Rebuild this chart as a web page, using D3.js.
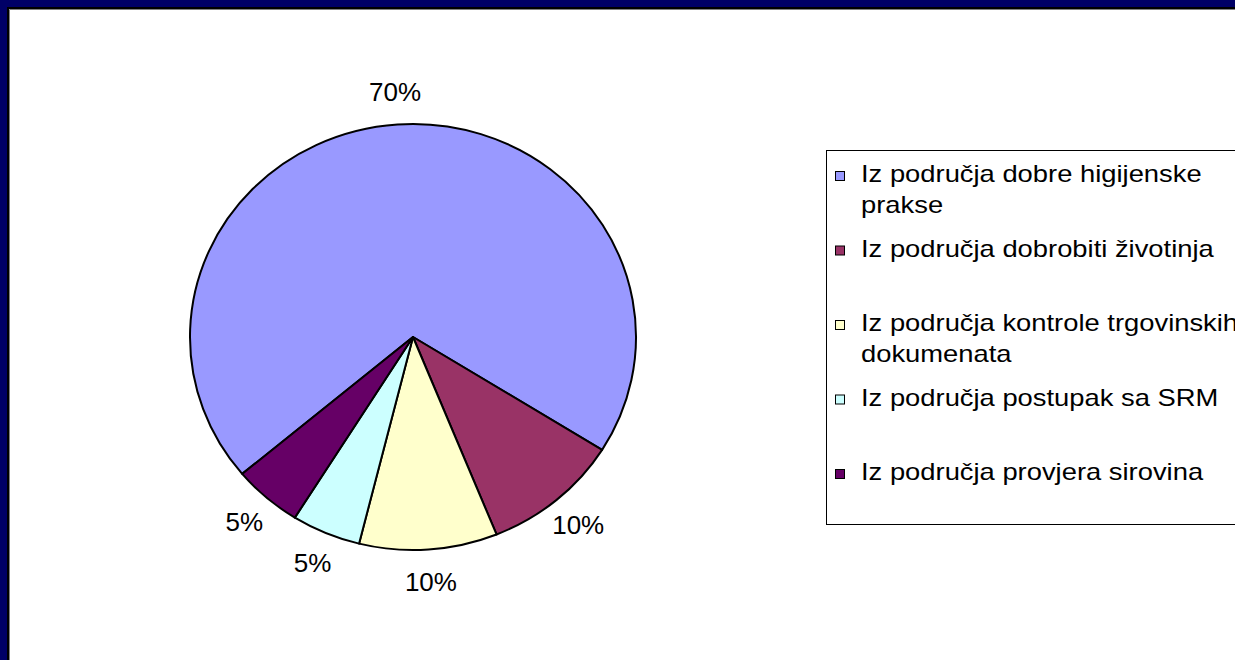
<!DOCTYPE html>
<html>
<head>
<meta charset="utf-8">
<script src="https://cdn.jsdelivr.net/npm/d3@7"></script>
<style>
  html, body { margin: 0; padding: 0; background: #fff; overflow: hidden; width: 1235px; height: 660px; }
  #chart svg { position: absolute; left: 0; top: 0; display: block; }
  text { font-family: "Liberation Sans", Arial, sans-serif; fill: #000; }
</style>
</head>
<body>
<div id="chart"></div>
<script>
// Data
const categories = [
  "Iz područja dobre higijenske prakse",
  "Iz područja dobrobiti životinja",
  "Iz područja kontrole trgovinskih dokumenata",
  "Iz područja postupak sa SRM",
  "Iz područja provjera sirovina"
]
const values = [70, 10, 10, 5, 5]
const colors = ["#9999ff", "#993366", "#ffffcc", "#ccffff", "#660066"]

const width = 1235, height = 660
const cx = 413, cy = 337
const radius = 223
const squash = 0.955          // slide is drawn slightly flattened
const startAngle = 230 * Math.PI / 180

const svg = d3.select('#chart')
  .append('svg')
  .attr('width', width)
  .attr('height', height)

// slide frame (only top and left edges are inside the window)
svg.append('rect').attr('width', width).attr('height', height).attr('fill', '#fff')
svg.append('rect').attr('width', width).attr('height', 7).attr('fill', '#000066')
svg.append('rect').attr('width', 7).attr('height', height).attr('fill', '#000066')
svg.append('path')
  .attr('d', `M8,${height} V8 H${width}`)
  .attr('fill', 'none').attr('stroke', '#000').attr('stroke-width', 2)
svg.append('path')
  .attr('d', `M9.5,${height} V9.5 H${width}`)
  .attr('fill', 'none').attr('stroke', '#808080').attr('stroke-width', 1)

// pie
const pie = d3.pie()
  .sort(null)
  .value(d => d)
  .startAngle(startAngle)
  .endAngle(startAngle + 2 * Math.PI)
const arcs = pie(values)

const arc = d3.arc().innerRadius(0).outerRadius(radius)
const labelArc = d3.arc().innerRadius(257).outerRadius(257)

const pieG = svg.append('g')
  .attr('transform', `translate(${cx},${cy}) scale(1,${squash})`)

pieG.selectAll('path')
  .data(arcs)
  .join('path')
  .attr('d', arc)
  .attr('fill', (d, i) => colors[i])
  .attr('stroke', '#000')
  .attr('stroke-width', 2)
  .attr('stroke-linejoin', 'round')
  .attr('vector-effect', 'non-scaling-stroke')

svg.append('g')
  .attr('transform', `translate(${cx},${cy})`)
  .selectAll('text')
  .data(arcs)
  .join('text')
  .attr('x', d => labelArc.centroid(d)[0])
  .attr('y', d => labelArc.centroid(d)[1] * squash)
  .attr('dy', '0.35em')
  .attr('text-anchor', 'middle')
  .style('font-size', '26px')
  .text(d => d.data + '%')

// legend
const legendX = 826
const legendTop = 150, legendBottom = 524
svg.append('rect')
  .attr('x', legendX + 0.5)
  .attr('y', legendTop + 0.5)
  .attr('width', 500)
  .attr('height', legendBottom - legendTop)
  .attr('fill', '#fff')
  .attr('stroke', '#000')
  .attr('stroke-width', 1)

const yLegend = d3.scalePoint()
  .domain(categories)
  .range([182, 480])

const stretch = 1.19
const wrapWidth = 395 / stretch

const entry = svg.selectAll('g.entry')
  .data(categories)
  .join('g')
  .attr('class', 'entry')

entry.append('rect')
  .attr('x', 835.5)
  .attr('y', d => yLegend(d) - 10.5)
  .attr('width', 9)
  .attr('height', 9)
  .attr('fill', (d, i) => colors[i])
  .attr('stroke', '#000')
  .attr('stroke-width', 1)

entry.append('text')
  .attr('transform', d => `translate(861,${yLegend(d)}) scale(${stretch},1)`)
  .style('font-size', '23px')
  .each(function(d) {
    const t = d3.select(this)
    const words = d.split(' ')
    let line = []
    let lineNo = 0
    let tspan = t.append('tspan').attr('x', 0).attr('y', 0)
    words.forEach(w => {
      line.push(w)
      tspan.text(line.join(' '))
      if (tspan.node().getComputedTextLength() > wrapWidth && line.length > 1) {
        line.pop()
        tspan.text(line.join(' '))
        line = [w]
        lineNo++
        tspan = t.append('tspan').attr('x', 0).attr('y', lineNo * 31).text(w)
      }
    })
  })
</script>
</body>
</html>
